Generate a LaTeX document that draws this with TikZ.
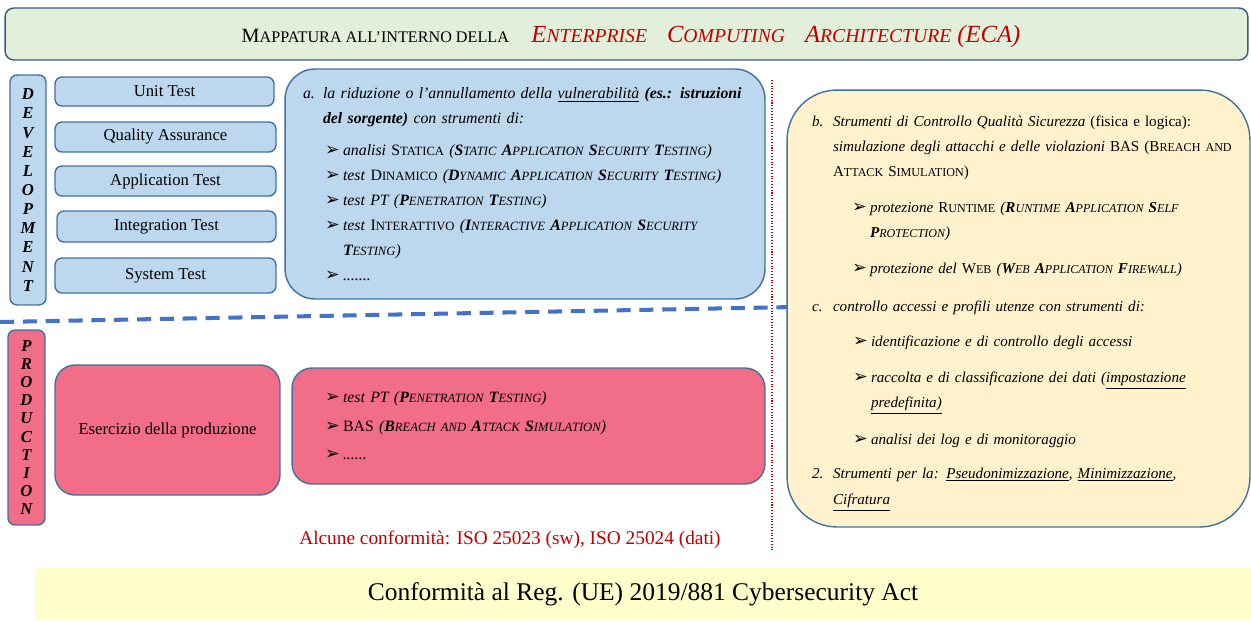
\documentclass[tikz,border=0pt]{standalone}
\usepackage{fontspec}
\setmainfont{Liberation Serif}
\newfontfamily\symfont{DejaVu Sans}
\usepackage{tikz}

\definecolor{azzurro}{HTML}{BDD7EE}
\definecolor{bordoblu}{HTML}{41719C}
\definecolor{bordotitolo}{HTML}{3B5A80}
\definecolor{rosa}{HTML}{F26E88}
\definecolor{crema}{HTML}{FFF2CC}
\definecolor{verdino}{HTML}{E2EFDA}
\definecolor{giallino}{HTML}{FFFFCC}
\definecolor{rossoscuro}{HTML}{C00000}
\definecolor{bluline}{HTML}{4472C4}

% maiuscoletto fatto a mano (anche in corsivo)
\makeatletter
\newcommand\ksc[2]{#1{\fontsize{\the\dimexpr\f@size pt*4/5\relax}{\f@baselineskip}\selectfont#2}}
\makeatother
\newcommand\frec{\makebox[0.36cm][l]{\symfont\upshape\fontsize{10}{10}\selectfont ➢}}

\tikzset{
  box/.style={draw=bordoblu, line width=0.8pt, rounded corners=4pt, inner sep=0pt},
  testbox/.style={box, fill=azzurro, font=\fontsize{9.5}{11}\selectfont},
  lettere/.style={box, align=center, font=\bfseries\itshape\fontsize{9.5}{10.9}\selectfont},
  elenco/.style={align=left, font=\itshape\fontsize{9}{14.2}\selectfont},
}

\begin{document}
\begin{tikzpicture}[x=0.02cm, y=-0.02cm]
\useasboundingbox (0,0) rectangle (1251,620);

% titolo
\node[box, draw=bordotitolo, fill=verdino, rounded corners=5pt,
      minimum width=24.86cm, minimum height=1.04cm] (titolo) at (626.5,34) {};
\node (titolotesto) at (631,37)
  {\fontsize{11.5}{14}\selectfont\ksc{M}{APPATURA ALL'INTERNO DELLA}\hspace{0.45cm}%
   {\color{rossoscuro}\itshape\fontsize{14}{17}\selectfont
    \ksc{E}{NTERPRISE}\hspace{0.4cm}\ksc{C}{OMPUTING}\hspace{0.4cm}\ksc{A}{RCHITECTURE} (ECA)}};

% separatori
\draw[bluline, line width=2.3pt, dash pattern=on 8pt off 5pt] (0,322) -- (795,307);
\draw[rossoscuro, line width=0.6pt, densely dotted] (772,80) -- (772,550);

% sviluppo
\node[lettere, fill=azzurro, minimum width=0.72cm, minimum height=4.6cm] (sviluppo) at (28,190)
  {D\\E\\V\\E\\L\\O\\P\\M\\E\\N\\T};
\node[testbox, minimum width=4.38cm, minimum height=0.58cm] (unit) at (164.5,91.5) {Unit Test};
\node[testbox, minimum width=4.42cm, minimum height=0.6cm] (qa) at (165.5,137) {Quality Assurance};
\node[testbox, minimum width=4.42cm, minimum height=0.6cm] (app) at (165.5,181) {Application Test};
\node[testbox, minimum width=4.38cm, minimum height=0.62cm] (integr) at (166.5,226.5) {Integration Test};
\node[testbox, minimum width=4.42cm, minimum height=0.7cm] (system) at (165.5,275.5) {System Test};

\node[box, elenco, fill=azzurro, rounded corners=0.6cm, minimum width=9.6cm, minimum height=4.6cm,
      text width=8.88cm, inner xsep=0.36cm] (riduzione) at (525,184)
  {\makebox[0.4cm][l]{a.}la riduzione o l'annullamento della \underline{vulnerabilità} \textbf{(es.: istruzioni}\\
   \hspace*{0.4cm}\textbf{del sorgente)} con strumenti di:\\[4pt]
   \hspace*{0.44cm}\frec analisi \textup{\ksc{S}{TATICA}} (\ksc{\textbf{S}}{TATIC} \ksc{\textbf{A}}{PPLICATION} \ksc{\textbf{S}}{ECURITY} \ksc{\textbf{T}}{ESTING})\\
   \hspace*{0.44cm}\frec test \textup{\ksc{D}{INAMICO}} (\ksc{\textbf{D}}{YNAMIC} \ksc{\textbf{A}}{PPLICATION} \ksc{\textbf{S}}{ECURITY} \ksc{\textbf{T}}{ESTING})\\
   \hspace*{0.44cm}\frec test PT (\ksc{\textbf{P}}{ENETRATION} \ksc{\textbf{T}}{ESTING})\\
   \hspace*{0.44cm}\frec test \textup{\ksc{I}{NTERATTIVO}} (\ksc{\textbf{I}}{NTERACTIVE} \ksc{\textbf{A}}{PPLICATION} \ksc{\textbf{S}}{ECURITY}\\
   \hspace*{0.8cm}\ksc{\textbf{T}}{ESTING})\\
   \hspace*{0.44cm}\frec .......};

% controlli
\node[box, elenco, fill=crema, rounded corners=1cm, minimum width=9.26cm, minimum height=8.74cm,
      text width=8.26cm, inner xsep=0.5cm, font=\itshape\fontsize{8.6}{14.2}\selectfont] (controlli) at (1018.5,308.5)
  {\rule{0pt}{12pt}\makebox[0.42cm][l]{b.}Strumenti di Controllo Qualità Sicurezza \textup{(fisica e logica):}\\
   \mbox{\hspace*{0.42cm}simulazione degli attacchi e delle violazioni \textup{BAS (\ksc{B}{REACH AND}}}\\
   \hspace*{0.42cm}\textup{\ksc{A}{TTACK} \ksc{S}{IMULATION})}\\[6.5pt]
   \hspace*{0.8cm}\frec protezione \textup{\ksc{R}{UNTIME}} (\ksc{\textbf{R}}{UNTIME} \ksc{\textbf{A}}{PPLICATION} \ksc{\textbf{S}}{ELF}\\
   \hspace*{1.16cm}\ksc{\textbf{P}}{ROTECTION})\\[6pt]
   \hspace*{0.8cm}\frec protezione del \textup{\ksc{W}{EB}} (\ksc{\textbf{W}}{EB} \ksc{\textbf{A}}{PPLICATION} \ksc{\textbf{F}}{IREWALL})\\[7.5pt]
   \makebox[0.42cm][l]{c.}controllo accessi e profili utenze con strumenti di:\\[6pt]
   \hspace*{0.82cm}\frec identificazione e di controllo degli accessi\\[6pt]
   \hspace*{0.82cm}\frec raccolta e di classificazione dei dati (\underline{impostazione}\\
   \hspace*{1.18cm}\underline{predefinita)}\\[7pt]
   \hspace*{0.82cm}\frec analisi dei log e di monitoraggio\\[5pt]
   \makebox[0.42cm][l]{2.}Strumenti per la: \underline{Pseudonimizzazione}, \underline{Minimizzazione},\\[1pt]
   \hspace*{0.42cm}\underline{Cifratura}};

% produzione
\node[lettere, fill=rosa, minimum width=0.74cm, minimum height=3.9cm,
      font=\bfseries\itshape\fontsize{9.5}{10.3}\selectfont] (produzione) at (26.5,427.5)
  {P\\R\\O\\D\\U\\C\\T\\I\\O\\N};
\node[testbox, fill=rosa, rounded corners=0.4cm, minimum width=4.5cm, minimum height=2.6cm] (esercizio) at (167.5,430)
  {Esercizio della produzione};
\node[box, fill=rosa, rounded corners=0.4cm, minimum width=9.46cm, minimum height=2.32cm,
      align=left, text width=8.14cm, inner xsep=0.66cm, font=\itshape\fontsize{9}{16.2}\selectfont] (pentest) at (528.5,426)
  {\frec test PT (\ksc{\textbf{P}}{ENETRATION} \ksc{\textbf{T}}{ESTING})\\
   \frec \textup{BAS} (\ksc{\textbf{B}}{REACH AND} \ksc{\textbf{A}}{TTACK} \ksc{\textbf{S}}{IMULATION})\\
   \frec ......};

\node[text=rossoscuro, font=\fontsize{11}{13}\selectfont] (iso) at (510,540)
  {Alcune conformità: ISO 25023 (sw), ISO 25024 (dati)};

% regolamento
\node[fill=giallino, minimum width=24.32cm, minimum height=1.04cm, inner sep=0pt,
      font=\fontsize{14.5}{16}\selectfont] (regolamento) at (643,594)
  {Conformità al Reg. (UE) 2019/881 Cybersecurity Act};
\end{tikzpicture}
\end{document}
